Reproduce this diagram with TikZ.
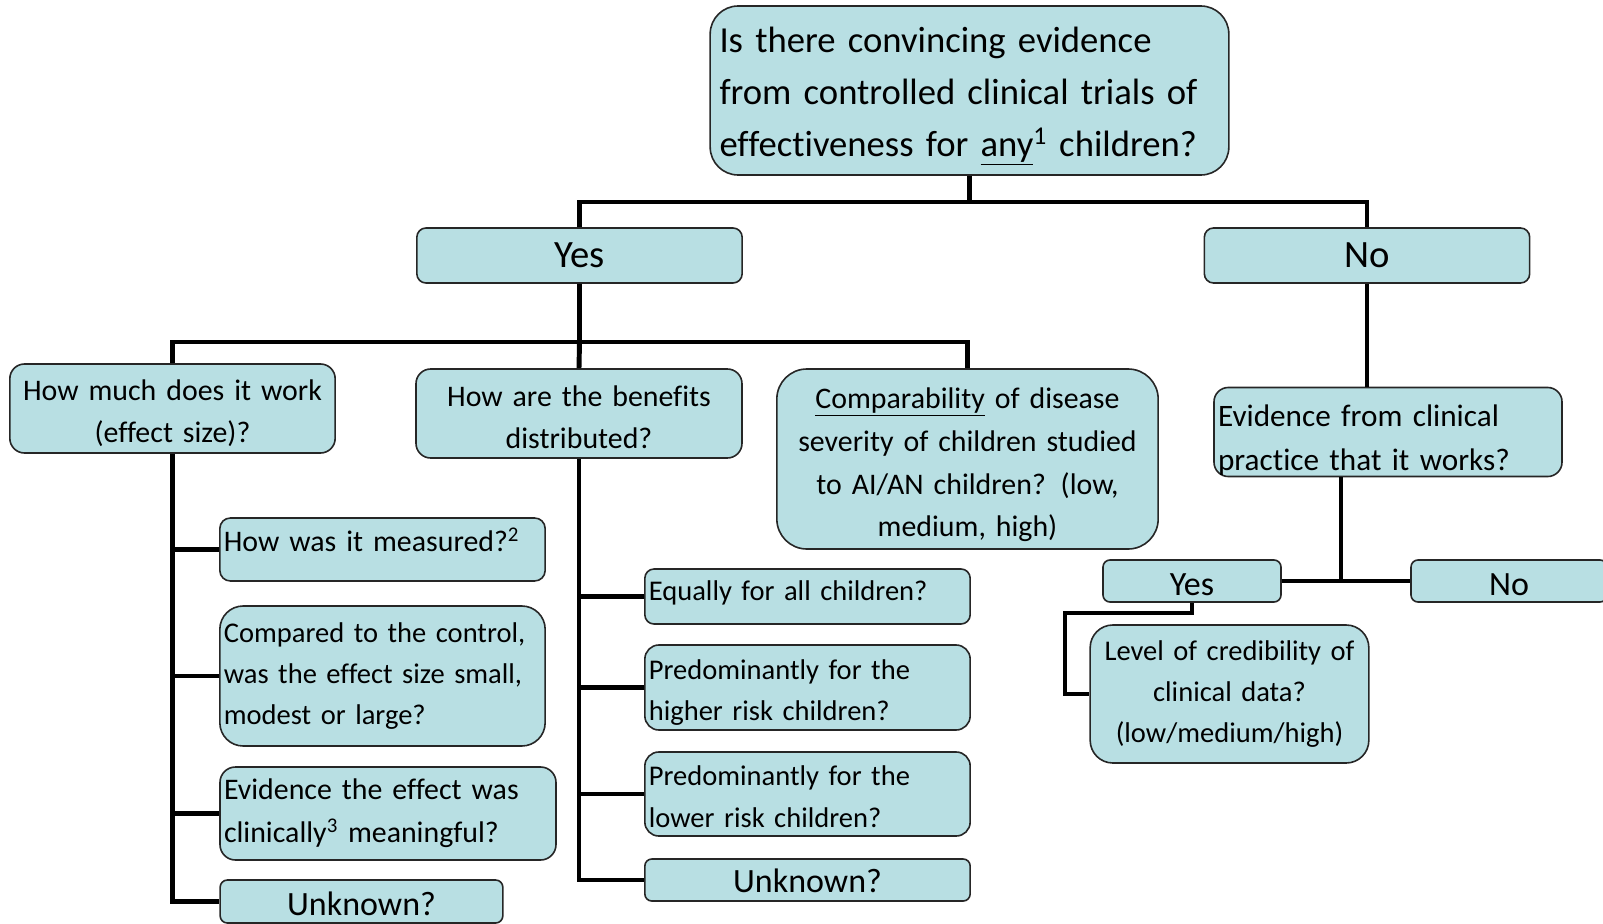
\documentclass[tikz,border=0pt]{standalone}
\usepackage{fontspec}
\setmainfont{Carlito}[Ligatures=NoCommon]
\definecolor{boxfill}{RGB}{184,223,227}

\begin{document}
\begin{tikzpicture}[x=0.75pt, y=-0.75pt,
  box/.style={draw=black!85, line width=1.2pt, fill=boxfill, inner xsep=3pt, inner ysep=1pt},
  link/.style={line width=3.7pt},
  txtsmall/.style={font=\fontsize{21.4}{31}\selectfont},
  txtmid/.style={font=\fontsize{22.4}{32}\selectfont},
  txtbig/.style={font=\fontsize{23.4}{33}\selectfont},
  txtlabel/.style={font=\fontsize{25.5}{33}\selectfont},
  txthead/.style={font=\fontsize{27.5}{39}\selectfont}]

\useasboundingbox (0,0) rectangle (1603,924);

% Top question
\node[box, txthead, align=left, inner xsep=7pt, text width=375pt, minimum height=126.75pt, text height=28pt, rounded corners=21pt] (q0) at (969.5,90.5) {Is there convincing evidence\\from controlled clinical trials of\\effectiveness for \underline{any}\textsuperscript{1} children?};

% Yes / No
\node[box, font=\fontsize{29}{39}\selectfont, align=center, text width=238pt, minimum height=41.25pt, rounded corners=6.9pt] (yes) at (579.5,255.5) {Yes};
\node[box, font=\fontsize{29}{39}\selectfont, align=center, text width=238pt, minimum height=41.25pt, rounded corners=6.9pt] (no) at (1367,255.5) {No};

% Yes branch
\node[box, txtmid, align=center, text width=238pt, minimum height=66.75pt, text height=22.7pt, rounded corners=11pt] (q1) at (172.5,408.5) {How much does it work\\(effect size)?};
\node[box, txtmid, align=center, text width=238.5pt, minimum height=66.75pt, text height=21.2pt, rounded corners=11pt] (q2) at (579,413.5) {How are the benefits\\distributed?};
\node[box, txtmid, align=center, text width=280pt, minimum height=135pt, text height=24.4pt, rounded corners=22.5pt] (q3) at (967.5,459) {\underline{Comparability} of disease\\severity of children studied\\to AI/AN children? (low,\\medium, high)};

% Effect size
\node[box, txtmid, align=left, text width=238pt, minimum height=47.25pt, text depth=15pt, rounded corners=7.9pt] (m1) at (382.5,549.5) {How was it measured?\textsuperscript{2}};
\node[box, txtsmall, align=left, text width=238pt, minimum height=105pt, rounded corners=17.5pt] (m2) at (382.5,676) {Compared to the control,\\was the effect size small,\\modest or large?};
\node[box, txtmid, align=left, text width=246pt, minimum height=69.75pt, rounded corners=11.6pt] (m3) at (388,813.5) {Evidence the effect was\\clinically\textsuperscript{3} meaningful?};
\node[box, txtlabel, align=center, text width=206pt, minimum height=32.25pt, text height=20.8pt, rounded corners=5.4pt] (m4) at (361.5,901.5) {Unknown?};

% Distribution
\node[box, txtsmall, align=left, text width=238pt, minimum height=41.25pt, text depth=9pt, rounded corners=6.9pt] (d1) at (807.5,596.5) {Equally for all children?};
\node[box, txtsmall, align=left, text width=238pt, minimum height=63.75pt, text height=22pt, rounded corners=10.6pt] (d2) at (807.5,687.5) {Predominantly for the\\higher risk children?};
\node[box, txtsmall, align=left, text width=238pt, minimum height=63pt, text height=19pt, rounded corners=10.5pt] (d3) at (807.5,794) {Predominantly for the\\lower risk children?};
\node[box, txtlabel, align=center, text width=238pt, minimum height=31.5pt, text height=19.3pt, rounded corners=5.25pt] (d4) at (807.5,880) {Unknown?};

% No branch
\node[box, txtbig, align=left, text width=255pt, minimum height=64.5pt, text height=28pt, rounded corners=10.75pt] (q4) at (1388,432) {Evidence from clinical\\practice that it works?};
\node[box, txtlabel, align=center, text width=127.5pt, minimum height=31.5pt, text height=22.3pt, rounded corners=5.25pt] (yes2) at (1192,581) {Yes};
\node[box, txtlabel, align=center, text width=141pt, minimum height=31.5pt, text height=22.3pt, rounded corners=5.25pt] (no2) at (1509,581) {No};
\node[box, txtsmall, align=center, text width=203pt, minimum height=103.5pt, rounded corners=17pt] (cred) at (1229.5,694) {Level of credibility of\\clinical data?\\(low/medium/high)};

% Connectors
\coordinate (split0) at (969.5,202);
\draw[link] (q0.south) -- (split0);
\draw[link] (yes.north) |- (split0) -| (no.north);

\coordinate (split1) at (579.5,342);
\draw[link] (yes.south) -- (split1) -- (q2.north);
\draw[link] (q1.north) |- (split1) -| (q3.north);

\draw[link] (q1.south) |- (m4.west);
\foreach \n in {m1,m2,m3}
  \draw[link] (\n.west) -- (\n.west -| q1.south);

\draw[link] (q2.south) |- (d4.west);
\foreach \n in {d1,d2,d3}
  \draw[link] (\n.west) -- (\n.west -| q2.south);

\draw[link] (no.south) -- (no.south |- q4.north);
\coordinate (split2) at (1341,581);
\draw[link] (q4.south -| split2) -- (split2);
\draw[link] (yes2.east) -- (no2.west);
\draw[link] (yes2.south) |- (1065,613) |- (cred.west);

\end{tikzpicture}
\end{document}
